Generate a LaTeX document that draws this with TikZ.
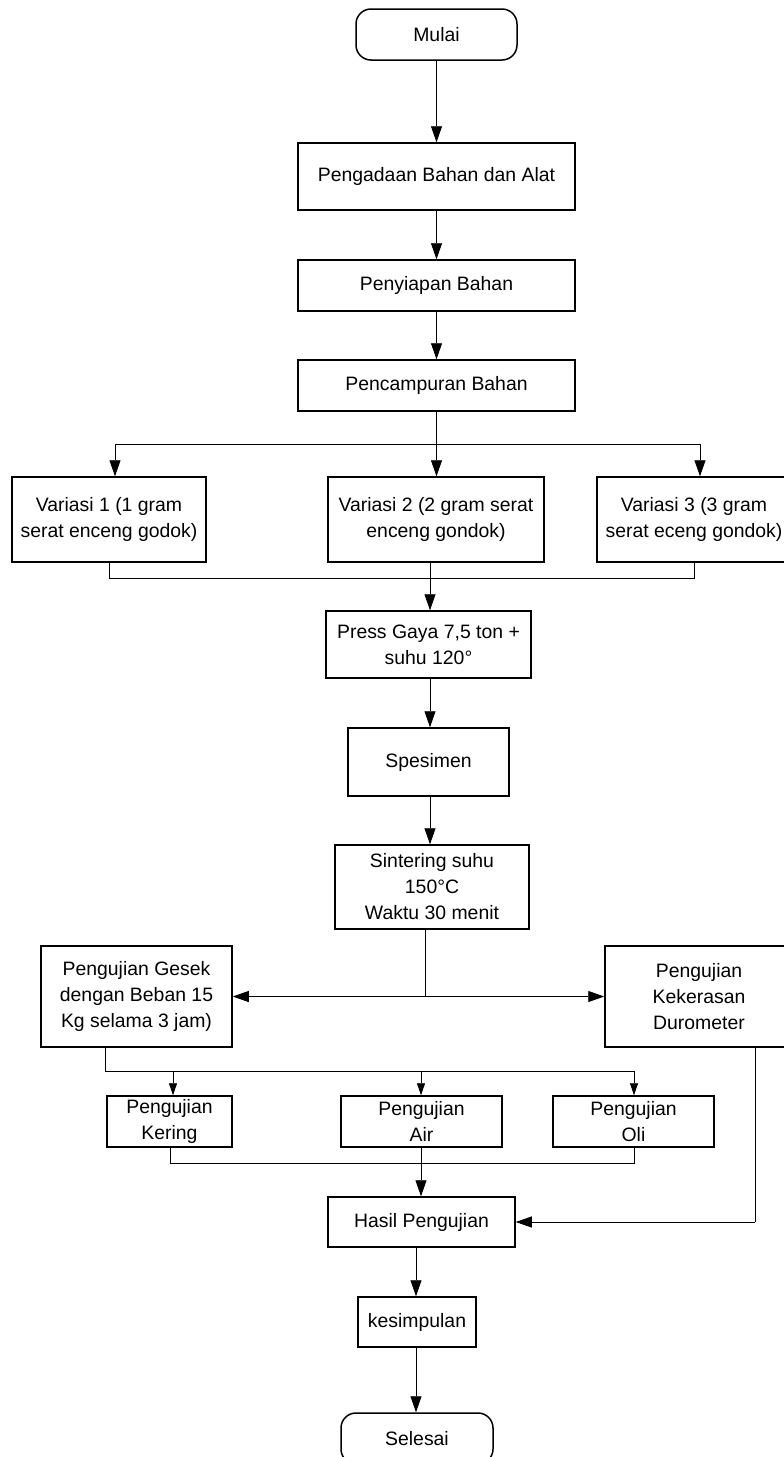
\documentclass[tikz,border=0pt]{standalone}
\usepackage{fontspec}
\setmainfont{Liberation Sans}
\usetikzlibrary{arrows.meta}
\begin{document}
\begin{tikzpicture}[x=1pt,y=-1pt,
  box/.style={draw,line width=1.5pt,rectangle,inner sep=0pt,align=center,
    font=\fontsize{19.4}{26}\selectfont},
  term/.style={box,rounded corners=15pt},
  conn/.style={line width=0.8pt},
  arr/.style={conn,-{Triangle[length=16pt,width=11pt]}},
  sarr/.style={conn,-{Triangle[length=12pt,width=8pt]}}]
\useasboundingbox (0,0) rectangle (784,1457);
\clip (0,0) rectangle (784,1457);
% nodes
\node[term,minimum width=161pt,minimum height=51pt] (mulai) at (436.5,34.5) {Mulai};
\node[box,minimum width=277pt,minimum height=67pt] (pengadaan) at (436.5,176.5) {Pengadaan Bahan dan Alat};
\node[box,minimum width=277pt,minimum height=51pt] (penyiapan) at (436.5,285.5) {Penyiapan Bahan};
\node[box,minimum width=277pt,minimum height=51pt] (pencampuran) at (436.5,385.5) {Pencampuran Bahan};
\node[box,minimum width=194pt,minimum height=85pt] (v1) at (109,519.5) {Variasi 1 (1 gram\\serat enceng godok)};
\node[box,minimum width=216pt,minimum height=85pt] (v2) at (436,519.5) {Variasi 2 (2 gram serat\\enceng gondok)};
\node[box,minimum width=194pt,minimum height=85pt] (v3) at (694,519.5) {Variasi 3 (3 gram\\serat eceng gondok)};
\node[box,minimum width=205pt,minimum height=67pt] (press) at (428.5,644.5) {Press Gaya 7,5 ton +\\suhu 120°};
\node[box,minimum width=161pt,minimum height=68pt] (spesimen) at (428.5,762) {Spesimen};
\node[box,minimum width=194pt,minimum height=84pt] (sintering) at (432,887) {Sintering suhu\\150°C\\Waktu 30 menit};
\node[box,minimum width=191pt,minimum height=101pt] (gesek) at (136.5,996.5) {Pengujian Gesek\\dengan Beban 15\\Kg selama 3 jam)};
\node[box,minimum width=188pt,minimum height=101pt] (durometer) at (699,996.5) {Pengujian\\Kekerasan\\Durometer};
\node[box,minimum width=125pt,minimum height=51pt] (kering) at (169.5,1121.5) {Pengujian\\Kering};
\node[box,minimum width=161pt,minimum height=51pt] (air) at (421.5,1121.5) {Pengujian\\Air};
\node[box,minimum width=161pt,minimum height=51pt] (oli) at (633.5,1121.5) {Pengujian\\Oli};
\node[box,minimum width=187pt,minimum height=50pt] (hasil) at (421.5,1222) {Hasil Pengujian};
\node[box,minimum width=118pt,minimum height=50pt] (kesimpulan) at (417,1322) {kesimpulan};
\node[term,minimum width=152pt,minimum height=51pt] (selesai) at (417,1438.5) {Selesai};
% branch coordinates
\coordinate (b1) at (436.5,444);
\coordinate (b1l) at (115,444);
\coordinate (b1r) at (700,444);
\coordinate (j1l) at (109,578);
\coordinate (j1r) at (694,578);
\coordinate (j2) at (430,578);
\coordinate (s1) at (425,996.5);
\coordinate (g1) at (105,1071);
\coordinate (g1k) at (173,1071);
\coordinate (g1a) at (421,1071);
\coordinate (g1o) at (634,1071);
\coordinate (k1) at (170,1163);
\coordinate (k1o) at (634,1163);
\coordinate (d1) at (755,1222);
\coordinate (h1) at (416,1247);
\coordinate (e1) at (416,1347);
% connectors
\draw[arr] (mulai) -- (pengadaan);
\draw[arr] (pengadaan) -- (penyiapan);
\draw[arr] (penyiapan) -- (pencampuran);
\draw[conn] (pencampuran.south) -- (b1);
\draw[conn] (b1l) -- (b1r);
\draw[arr] (b1l) -- (b1l |- v1.north);
\draw[arr] (b1) -- (b1 |- v2.north);
\draw[arr] (b1r) -- (b1r |- v3.north);
\draw[conn] (v1.south) -- (j1l) -- (j1r) -- (v3.south);
\draw[arr] (j2 |- v2.south) -- (j2 |- press.north);
\draw[arr] (j2 |- press.south) -- (j2 |- spesimen.north);
\draw[arr] (j2 |- spesimen.south) -- (j2 |- sintering.north);
\draw[conn] (s1 |- sintering.south) -- (s1);
\draw[arr] (s1) -- (gesek.east);
\draw[arr] (s1) -- (durometer.west);
\draw[conn] (g1 |- gesek.south) -- (g1) -- (g1o);
\draw[sarr] (g1k) -- (g1k |- kering.north);
\draw[sarr] (g1a) -- (g1a |- air.north);
\draw[sarr] (g1o) -- (g1o |- oli.north);
\draw[conn] (k1 |- kering.south) -- (k1) -- (k1o) -- (k1o |- oli.south);
\draw[arr] (g1a |- air.south) -- (g1a |- hasil.north);
\draw[conn] (d1 |- durometer.south) -- (d1);
\draw[arr] (d1) -- (hasil.east);
\draw[arr] (h1) -- (h1 |- kesimpulan.north);
\draw[arr] (e1) -- (e1 |- selesai.north);
\end{tikzpicture}
\end{document}
